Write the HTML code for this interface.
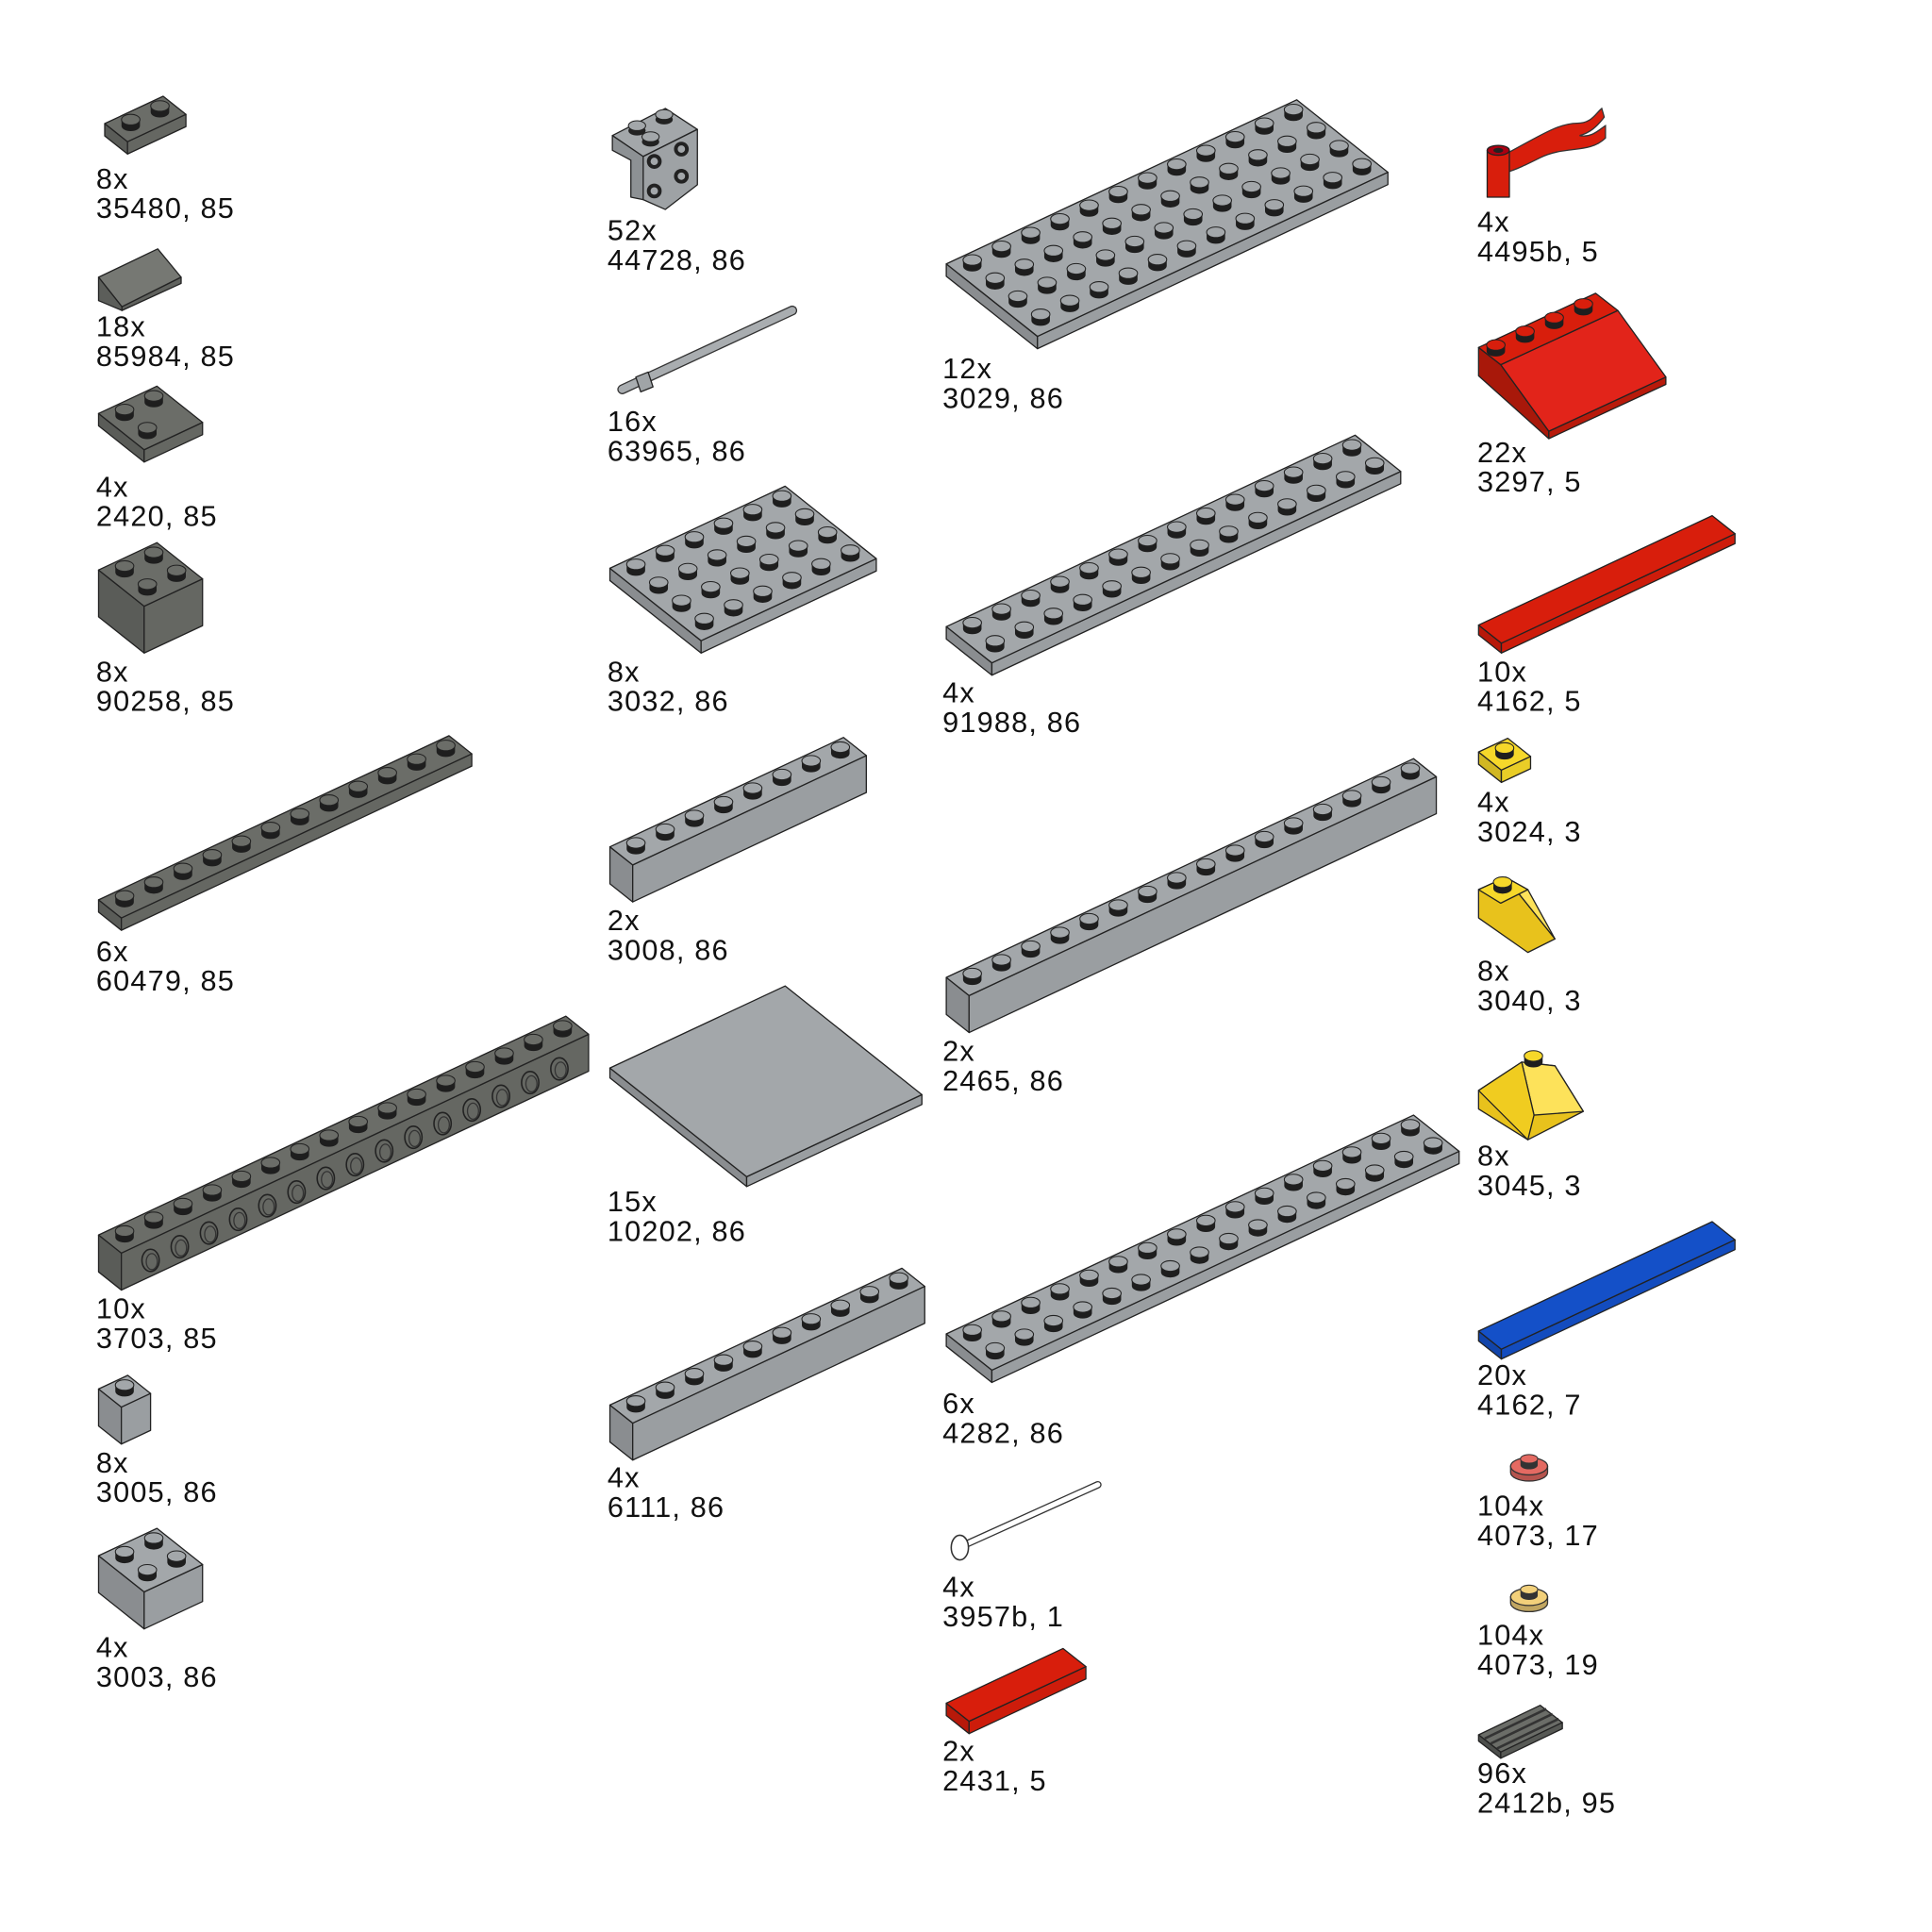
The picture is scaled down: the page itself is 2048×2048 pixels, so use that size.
<!DOCTYPE html>
<html><head><meta charset="utf-8"><style>
html,body{margin:0;padding:0;background:#fff}
svg{display:block}
text{font-family:"Liberation Sans",sans-serif;font-size:23.5px;letter-spacing:0.9px;fill:#111}
</style></head><body>
<svg id="s" width="2048" height="2048" viewBox="0 0 1568 1568" xmlns="http://www.w3.org/2000/svg">
<g id="g"></g>
<g id="lbl">
<text x="78" y="153">8x</text><text x="78" y="177">35480, 85</text>
<text x="78" y="273">18x</text><text x="78" y="297">85984, 85</text>
<text x="78" y="403">4x</text><text x="78" y="427">2420, 85</text>
<text x="78" y="553">8x</text><text x="78" y="577">90258, 85</text>
<text x="78" y="780">6x</text><text x="78" y="804">60479, 85</text>
<text x="78" y="1070">10x</text><text x="78" y="1094">3703, 85</text>
<text x="78" y="1195">8x</text><text x="78" y="1219">3005, 86</text>
<text x="78" y="1345">4x</text><text x="78" y="1369">3003, 86</text>
<text x="493" y="195">52x</text><text x="493" y="219">44728, 86</text>
<text x="493" y="350">16x</text><text x="493" y="374">63965, 86</text>
<text x="493" y="553">8x</text><text x="493" y="577">3032, 86</text>
<text x="493" y="755">2x</text><text x="493" y="779">3008, 86</text>
<text x="493" y="983">15x</text><text x="493" y="1007">10202, 86</text>
<text x="493" y="1207">4x</text><text x="493" y="1231">6111, 86</text>
<text x="765" y="307">12x</text><text x="765" y="331">3029, 86</text>
<text x="765" y="570">4x</text><text x="765" y="594">91988, 86</text>
<text x="765" y="861">2x</text><text x="765" y="885">2465, 86</text>
<text x="765" y="1147">6x</text><text x="765" y="1171">4282, 86</text>
<text x="765" y="1296">4x</text><text x="765" y="1320">3957b, 1</text>
<text x="765" y="1429">2x</text><text x="765" y="1453">2431, 5</text>
<text x="1199" y="188">4x</text><text x="1199" y="212">4495b, 5</text>
<text x="1199" y="375">22x</text><text x="1199" y="399">3297, 5</text>
<text x="1199" y="553">10x</text><text x="1199" y="577">4162, 5</text>
<text x="1199" y="659">4x</text><text x="1199" y="683">3024, 3</text>
<text x="1199" y="796">8x</text><text x="1199" y="820">3040, 3</text>
<text x="1199" y="946">8x</text><text x="1199" y="970">3045, 3</text>
<text x="1199" y="1124">20x</text><text x="1199" y="1148">4162, 7</text>
<text x="1199" y="1230">104x</text><text x="1199" y="1254">4073, 17</text>
<text x="1199" y="1335">104x</text><text x="1199" y="1359">4073, 19</text>
<text x="1199" y="1447">96x</text><text x="1199" y="1471">2412b, 95</text>
</g>
</svg>
<script>
var g=document.getElementById('g');var NS='http://www.w3.org/2000/svg';
function el(t,a){var e=document.createElementNS(NS,t);for(var k in a)e.setAttribute(k,a[k]);g.appendChild(e);return e;}
function poly(pts,fill){el('polygon',{points:pts.map(p=>p[0].toFixed(1)+','+p[1].toFixed(1)).join(' '),fill:fill,stroke:'#222','stroke-width':1,'stroke-linejoin':'round'});}
var u=[23.7,-11.1],w=[18.5,14.7];
function add(a,b,k,m){return [a[0]+b[0]*k+(m?m[0]:0),a[1]+b[1]*k+(m?m[1]:0)];}
function shade(c,f){var n=parseInt(c.slice(1),16);var r=(n>>16)&255,gg=(n>>8)&255,b=n&255;return 'rgb('+Math.min(255,r*f|0)+','+Math.min(255,gg*f|0)+','+Math.min(255,b*f|0)+')';}
function brick(lx,by,L,W,h,col,studs,holes){
 var P=[lx,by-h-W*w[1]];
 var A=P,B=add(P,u,L),C=add(B,w,W),D=add(P,w,W);
 var dn=[0,h];
 poly([A,D,add(D,dn,1),add(A,dn,1)],shade(col,0.85));
 poly([D,C,add(C,dn,1),add(D,dn,1)],shade(col,0.95));
 poly([A,B,C,D],col);
 if(holes){for(var i=0;i<L-1;i++){var c=add(add(D,u,i+1),[0,h/2],1);el('ellipse',{cx:c[0],cy:c[1]+2,rx:7,ry:9,fill:'none',stroke:'#222','stroke-width':1.2});el('ellipse',{cx:c[0]+1,cy:c[1]+3,rx:4.5,ry:6.5,fill:'none',stroke:'#333','stroke-width':1});}}
 if(studs){for(var j=0;j<W;j++)for(var i=L-1;i>=0;i--){
  if(studs===2&&i>=1&&j>=1)continue;
  var c=add(add(P,u,i+0.5),w,j+0.5);
  el('path',{d:'M'+(c[0]-7.5)+','+(c[1])+' v-5 h15 v5 a7.5,4.3 0 0 1 -15 0z',fill:'#1e1e1e'});
  el('ellipse',{cx:c[0],cy:c[1]-5,rx:7.5,ry:4.3,fill:col,stroke:'#222','stroke-width':0.8});}}
}
var DG='#6b6d68',LG='#a3a7aa',RD='#d81e0c',YL='#f6d82a',BL='#1450c8';
brick(85,125,2,1,10,DG,1);
brick(80,375,2,2,10,DG,2);
brick(80,530,2,2,38,DG,1);
brick(80,755,12,1,10,DG,1);
brick(80,1047,16,1,30,DG,1,1);
brick(80,1172,1,1,30,LG,1);
brick(80,1322,2,2,30,LG,1);
brick(495,530,6,4,10,LG,1);
brick(495,732,8,1,30,LG,1);
brick(495,963,6,6,8,LG,0);
brick(495,1185,10,1,30,LG,1);
brick(768,283,12,4,10,LG,1);
brick(768,548,14,2,10,LG,1);
brick(768,838,16,1,30,LG,1);
brick(768,1122,16,2,10,LG,1);
brick(768,1407,4,1,10,RD,0);
brick(1200,530,8,1,8,RD,0);
brick(1200,635,1,1,10,YL,1);
brick(1200,1103,8,1,8,BL,0);
// 85984 slope
poly([[80,225],[128,202],[147,225],[99,249]],'#767873');poly([[80,225],[99,249],[99,252],[80,244]],'#5c5e5a');poly([[99,249],[147,225],[147,230],[99,252]],'#60625e');
// 44728 bracket
poly([[497,110],[540,88],[566,105],[522,127]],LG);poly([[522,127],[566,105],[566,150],[540,170],[522,162]],'#9ea2a5');poly([[497,110],[522,127],[522,162],[512,160],[512,130],[497,122]],'#8d9194');
[[531,131],[553,121],[531,155],[553,143]].forEach(c=>{el('ellipse',{cx:c[0],cy:c[1],rx:6,ry:6,fill:'#222'});el('ellipse',{cx:c[0],cy:c[1],rx:3,ry:3,fill:LG});});
[[517,104],[539,95],[528,113]].forEach(c=>{el('ellipse',{cx:c[0],cy:c[1]+2,rx:7,ry:4,fill:'#222'});el('ellipse',{cx:c[0],cy:c[1]-2,rx:7,ry:4,fill:LG,stroke:'#222','stroke-width':.8});});
// 63965 bar
el('line',{x1:505,y1:316,x2:643,y2:252,stroke:'#333','stroke-width':8,'stroke-linecap':'round'});
el('line',{x1:505,y1:316,x2:643,y2:252,stroke:'#a9adb0','stroke-width':6,'stroke-linecap':'round'});
poly([[516,306],[526,302],[530,314],[520,318]],'#a0a4a7');
// 3957b antenna
el('line',{x1:778,y1:1256,x2:891,y2:1205,stroke:'#333','stroke-width':6,'stroke-linecap':'round'});
el('line',{x1:778,y1:1256,x2:891,y2:1205,stroke:'#fff','stroke-width':4,'stroke-linecap':'round'});
el('ellipse',{cx:779,cy:1256,rx:7,ry:10,fill:'#fff',stroke:'#333','stroke-width':1.2});
// 4495b flag
el('path',{d:'M1222,125 C1250,110 1265,100 1280,100 C1292,100 1295,92 1300,88 L1302,95 C1296,103 1290,108 1282,110 C1292,112 1298,105 1303,102 L1303,112 C1290,125 1270,118 1250,128 C1240,133 1230,138 1222,140 Z',fill:RD,stroke:'#333','stroke-width':1});
poly([[1207,122],[1225,122],[1225,160],[1207,160]],RD);el('ellipse',{cx:1216,cy:122,rx:9,ry:4,fill:'#a01',stroke:'#222'});el('ellipse',{cx:1216,cy:122,rx:4,ry:2,fill:'#222'});
// 3297 slope
poly([[1200,282],[1218,296],[1257,350],[1257,356],[1200,305]],'#a8180a');
poly([[1257,350],[1352,306],[1352,312],[1257,356]],'#b81a0b');
poly([[1218,296],[1313,252],[1352,306],[1257,350]],'#e2241a');
poly([[1200,282],[1295,238],[1313,252],[1218,296]],RD);
for(var i=0;i<4;i++){var c=[1214+i*23.7,285-i*11.1];el('path',{d:'M'+(c[0]-7.5)+','+c[1]+' v-5 h15 v5 a7.5,4.3 0 0 1 -15 0z',fill:'#1e1e1e'});el('ellipse',{cx:c[0],cy:c[1]-5,rx:7.5,ry:4.3,fill:RD,stroke:'#222','stroke-width':.8});}
// 3040 slope
poly([[1200,722],[1222,712],[1262,762],[1240,773],[1200,745]],'#e8c21c');
poly([[1222,712],[1240,722],[1262,762]],'#fde25a');
poly([[1200,722],[1222,712],[1240,722],[1218,733]],YL);
el('path',{d:'M1212,721 v-5 h15 v5 a7.5,4.3 0 0 1 -15 0z',fill:'#1e1e1e'});el('ellipse',{cx:1219.5,cy:716,rx:7.5,ry:4.3,fill:YL,stroke:'#222','stroke-width':.8});
// 3045
poly([[1200,885],[1235,862],[1262,865],[1285,902],[1240,925],[1200,900]],'#e8c21c');
poly([[1235,862],[1262,865],[1285,902],[1245,905]],'#fde25a');
poly([[1200,885],[1235,862],[1245,905],[1240,925]],'#f0cc20');
el('path',{d:'M1237,862 v-5 h15 v5 a7.5,4.3 0 0 1 -15 0z',fill:'#1e1e1e'});el('ellipse',{cx:1244.5,cy:857,rx:7.5,ry:4.3,fill:YL,stroke:'#222','stroke-width':.8});
// 4073 round plates
[[1241,1190,'#e46a62'],[1241,1296,'#f2d07a']].forEach(a=>{el('path',{d:'M'+(a[0]-15)+','+a[1]+' v5 a15,7 0 0 0 30 0 v-5z',fill:shade(a[2],0.8),stroke:'#333'});el('ellipse',{cx:a[0],cy:a[1],rx:15,ry:7,fill:a[2],stroke:'#333'});el('path',{d:'M'+(a[0]-7)+','+(a[1]-1)+' v-5 h14 v5 a7,3.5 0 0 1 -14 0z',fill:'#333'});el('ellipse',{cx:a[0],cy:a[1]-6,rx:7,ry:3.5,fill:a[2],stroke:'#333','stroke-width':.8});});
// 2412b grille
poly([[1200,1408],[1250,1384],[1268,1398],[1218,1422]],'#6b6d68');poly([[1200,1408],[1218,1422],[1218,1427],[1200,1413]],'#4d4f4c');poly([[1218,1422],[1268,1398],[1268,1403],[1218,1427]],'#575955');
for(var k=0;k<3;k++){el('line',{x1:1205+k*5,y1:1411+k*4,x2:1255+k*5,y2:1387+k*4,stroke:'#333','stroke-width':2});}
</script>
</body></html>
